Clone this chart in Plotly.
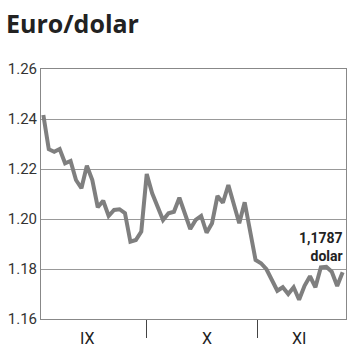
import plotly.graph_objects as go

# data (trading-day index -> EUR/USD rate)
rates = [
    1.2416, 1.2279, 1.2269, 1.2280, 1.2223, 1.2232, 1.2156, 1.2123, 1.2213, 1.2156,
    1.2047, 1.2073, 1.2012, 1.2036, 1.2039, 1.2023, 1.1909, 1.1916, 1.1950, 1.2180,
    1.2103, 1.2050, 1.1996, 1.2023, 1.2029, 1.2085, 1.2016, 1.1960, 1.1996, 1.2012,
    1.1945, 1.1983, 1.2092, 1.2065, 1.2136, 1.2063, 1.1983, 1.2067, 1.1950, 1.1836,
    1.1823, 1.1799, 1.1756, 1.1713, 1.1727, 1.1700, 1.1727, 1.1677, 1.1733, 1.1771,
    1.1727, 1.1807, 1.1809, 1.1789, 1.1732, 1.1787,
]
days = list(range(len(rates)))
month_labels = ["IX", "X", "XI"]
month_label_pos = [8.1, 30.0, 47.0]
month_bounds = [18.9, 39.3]
y_ticks = [1.16, 1.18, 1.20, 1.22, 1.24, 1.26]
last_label = "1,1787"
unit_label = "dolar"
title_text = "Euro/dolar"

fig = go.Figure()
fig.add_trace(go.Scatter(
    x=days, y=rates, mode="lines",
    line=dict(color="#7f7f7f", width=4),
    hoverinfo="skip", showlegend=False,
))

for lab, pos in zip(month_labels, month_label_pos):
    fig.add_annotation(
        x=pos, y=0, xref="x", yref="paper", yanchor="top", yshift=-8,
        text=lab, showarrow=False,
        font=dict(family="Roboto", size=16, color="#222"),
    )

fig.add_annotation(
    x=days[-1], y=rates[-1], xref="x", yref="y",
    xanchor="right", yanchor="bottom", align="right", yshift=6, xshift=2,
    text=f"<b>{last_label}</b><br><b>{unit_label}</b>", showarrow=False,
    font=dict(family="Roboto", size=14, color="#222"),
)

# title as a paper-anchored annotation
fig.add_annotation(
    x=0, y=1, xref="paper", yref="paper", xanchor="left", yanchor="top",
    xshift=-37, yshift=65, text=f"<b>{title_text}</b>", showarrow=False,
    font=dict(family="Open Sans", size=25, color="#222"),
)

fig.update_layout(
    width=350, height=351,
    margin=dict(l=41, r=4, t=69, b=32, autoexpand=False),
    paper_bgcolor="white", plot_bgcolor="white",
    xaxis=dict(
        range=[-0.43, len(rates) - 1 + 0.62], automargin=False,
        tickvals=month_bounds, ticks="outside", ticklen=18, tickwidth=1,
        tickcolor="#444", showticklabels=False, showgrid=False, zeroline=False,
        showline=True, linecolor="#888", linewidth=1, mirror=True,
    ),
    yaxis=dict(
        range=[1.16, 1.26], tickvals=y_ticks, tickformat=".2f", automargin=False,
        showgrid=True, gridcolor="#999", gridwidth=1, zeroline=False,
        showline=True, linecolor="#888", linewidth=1, mirror=True,
        ticks="", tickfont=dict(family="Roboto", size=15, color="#333"),
    ),
)

fig.write_html("out.html")
